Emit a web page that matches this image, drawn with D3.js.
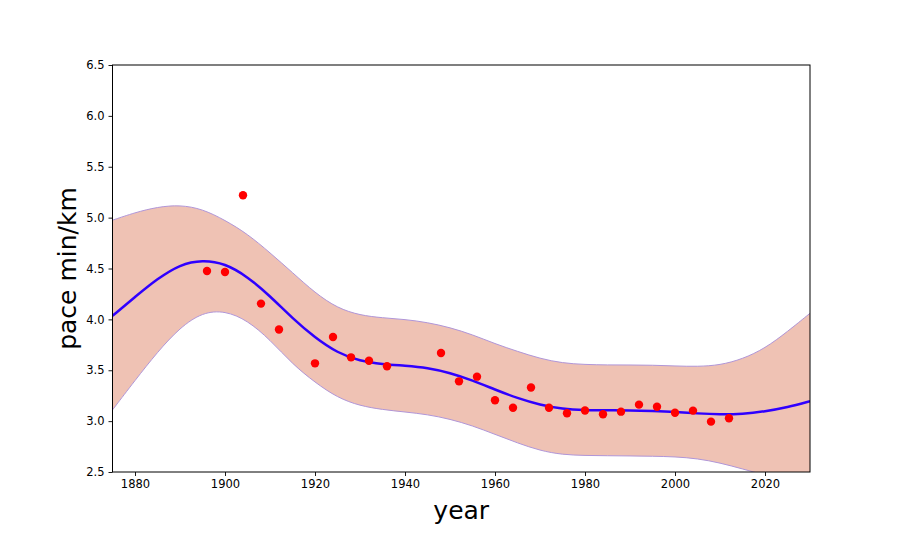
<!DOCTYPE html>
<html>
<head>
<meta charset="utf-8">
<script src="https://cdn.jsdelivr.net/npm/d3@7"></script>
<style>
  html, body { margin: 0; padding: 0; background: #ffffff; }
  svg { display: block; }
  text { font-family: "DejaVu Sans", sans-serif; }
</style>
</head>
<body>
<svg id="chart" width="900" height="540"></svg>
<script>
// Observed data points (year, pace min/km)
const years = [1896, 1900, 1904, 1908, 1912, 1920, 1924, 1928, 1932, 1936, 1948, 1952, 1956, 1960, 1964, 1968, 1972, 1976, 1980, 1984, 1988, 1992, 1996, 2000, 2004, 2008, 2012];
const pace = [4.475, 4.466, 5.22, 4.155, 3.90, 3.568, 3.827, 3.627, 3.594, 3.539, 3.67, 3.391, 3.437, 3.205, 3.132, 3.33, 3.132, 3.077, 3.105, 3.067, 3.093, 3.162, 3.142, 3.083, 3.103, 2.995, 3.028];

// Fitted curve and confidence band, read at grid years
const gridYears = [1875, 1880, 1885, 1890, 1895, 1900, 1905, 1910, 1915, 1920, 1925, 1930, 1935, 1940, 1945, 1950, 1955, 1960, 1965, 1970, 1975, 1980, 1985, 1990, 1995, 2000, 2005, 2010, 2015, 2020, 2025, 2030];
const meanCurve = [4.035, 4.22, 4.40, 4.54, 4.585, 4.55, 4.42, 4.23, 4.01, 3.82, 3.67, 3.59, 3.56, 3.545, 3.525, 3.475, 3.40, 3.31, 3.225, 3.16, 3.12, 3.108, 3.106, 3.106, 3.10, 3.092, 3.075, 3.065, 3.07, 3.095, 3.135, 3.195];
const upperBand = [4.975, 5.05, 5.105, 5.125, 5.085, 4.975, 4.84, 4.655, 4.46, 4.26, 4.11, 4.04, 4.015, 4.00, 3.97, 3.92, 3.85, 3.76, 3.685, 3.615, 3.57, 3.556, 3.552, 3.552, 3.55, 3.542, 3.536, 3.55, 3.61, 3.715, 3.88, 4.06];
const lowerBand = [3.11, 3.40, 3.68, 3.92, 4.07, 4.085, 3.99, 3.80, 3.56, 3.38, 3.23, 3.15, 3.113, 3.09, 3.065, 3.02, 2.955, 2.87, 2.785, 2.71, 2.67, 2.662, 2.66, 2.658, 2.655, 2.65, 2.632, 2.59, 2.53, 2.47, 2.39, 2.33];

const xTicks = [1880, 1900, 1920, 1940, 1960, 1980, 2000, 2020];
const yTicks = [2.5, 3.0, 3.5, 4.0, 4.5, 5.0, 5.5, 6.0, 6.5];
const xLabel = "year";
const yLabel = "pace min/km";

(function () {
const mL = 112.5, mR = 810, mT = 65, mB = 472;
const svg = d3.select("#chart");

const x = d3.scaleLinear().domain([1875, 2030]).range([mL, mR]);
const y = d3.scaleLinear().domain([2.5, 6.5]).range([mB, mT]);

svg.append("defs").append("clipPath").attr("id", "plotclip")
  .append("rect").attr("x", mL).attr("y", mT).attr("width", mR - mL).attr("height", mB - mT);

const plot = svg.append("g").attr("clip-path", "url(#plotclip)");

const bandData = gridYears.map((g, i) => ({ yr: g, lo: lowerBand[i], hi: upperBand[i], m: meanCurve[i] }));
const crv = d3.curveBasis;

const area = d3.area()
  .x(d => x(d.yr)).y0(d => y(d.lo)).y1(d => y(d.hi)).curve(crv);
plot.append("path").datum(bandData)
  .attr("d", area)
  .attr("fill", "#efc2b4")
  .attr("stroke", "none");

const edgeHi = d3.line().x(d => x(d.yr)).y(d => y(d.hi)).curve(crv);
const edgeLo = d3.line().x(d => x(d.yr)).y(d => y(d.lo)).curve(crv);
plot.append("path").datum(bandData).attr("d", edgeHi).attr("fill", "none").attr("stroke", "#b096d8").attr("stroke-width", 1);
plot.append("path").datum(bandData).attr("d", edgeLo).attr("fill", "none").attr("stroke", "#b096d8").attr("stroke-width", 1);

const meanLine = d3.line().x(d => x(d.yr)).y(d => y(d.m)).curve(crv);
plot.append("path").datum(bandData).attr("d", meanLine)
  .attr("fill", "none").attr("stroke", "#2f00ff").attr("stroke-width", 2.5);

plot.selectAll("circle.pt").data(years.map((yr, i) => ({ yr, v: pace[i] })))
  .enter().append("circle").attr("class", "pt")
  .attr("cx", d => x(d.yr)).attr("cy", d => y(d.v)).attr("r", 4.2)
  .attr("fill", "#ff0000");

// Axes
const xAxis = d3.axisBottom(x).tickValues(xTicks).tickFormat(d3.format("d")).tickSize(4).tickPadding(4);
const gx = svg.append("g").attr("transform", `translate(0,${mB})`).call(xAxis);
const yAxis = d3.axisLeft(y).tickValues(yTicks).tickFormat(d3.format(".1f")).tickSize(4).tickPadding(4);
const gy = svg.append("g").attr("transform", `translate(${mL},0)`).call(yAxis);
[gx, gy].forEach(g => {
  g.select(".domain").remove();
  g.selectAll("text").attr("font-size", "11.5px").attr("fill", "#000").attr("font-family", "DejaVu Sans, sans-serif");
  g.selectAll("line").attr("stroke", "#000").attr("stroke-width", 0.9);
});

// Frame
svg.append("rect").attr("x", mL).attr("y", mT).attr("width", mR - mL).attr("height", mB - mT)
  .attr("fill", "none").attr("stroke", "#000").attr("stroke-width", 1);

svg.append("text").attr("x", (mL + mR) / 2).attr("y", 519)
  .attr("text-anchor", "middle").attr("font-size", "25px").attr("fill", "#000").text(xLabel);
svg.append("text").attr("transform", `translate(76,${(mT + mB) / 2}) rotate(-90)`)
  .attr("text-anchor", "middle").attr("font-size", "25px").attr("fill", "#000").text(yLabel);
})();
</script>
</body>
</html>
